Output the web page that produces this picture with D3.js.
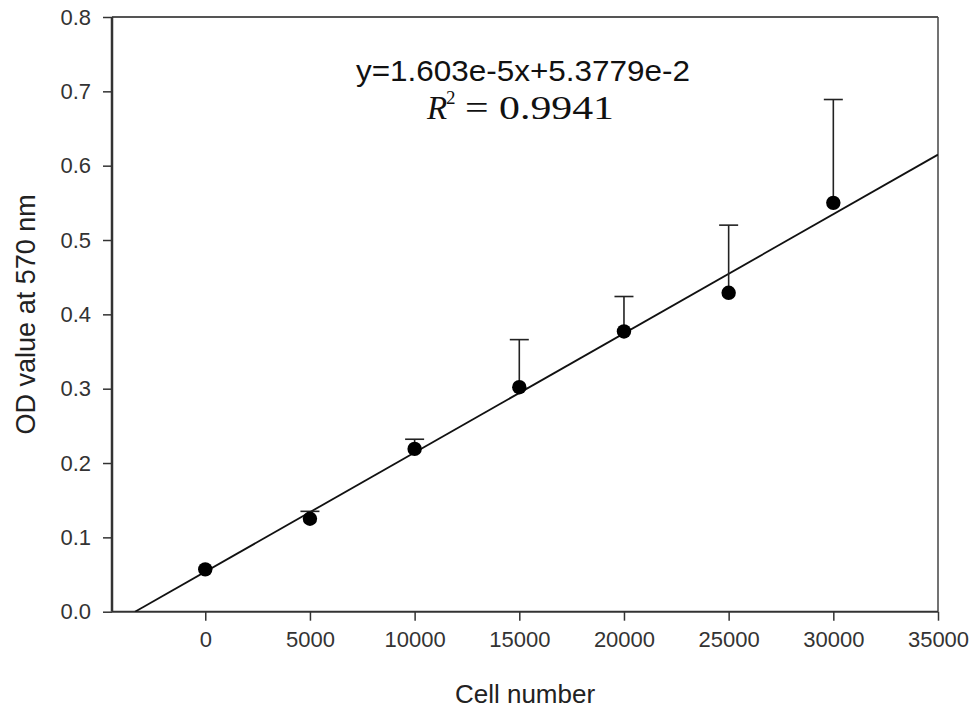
<!DOCTYPE html>
<html>
<head>
<meta charset="utf-8">
<script src="https://cdn.jsdelivr.net/npm/d3@7/dist/d3.min.js"></script>
<style>
  html, body { margin: 0; padding: 0; background: #fff; }
  svg { display: block; }
</style>
</head>
<body>
<svg id="chart" width="974" height="709"></svg>
<script>
// ---- data ----
const cellNumbers = [0, 5000, 10000, 15000, 20000, 25000, 30000];
const odValues    = [0.057, 0.125, 0.219, 0.302, 0.377, 0.429, 0.550];
const odErrors    = [0.000, 0.010, 0.013, 0.064, 0.047, 0.091, 0.139];
const xTickValues = [0, 5000, 10000, 15000, 20000, 25000, 30000, 35000];
const yTickValues = [0.0, 0.1, 0.2, 0.3, 0.4, 0.5, 0.6, 0.7, 0.8];
const fitSlope = 1.603e-5;
const fitIntercept = 5.3779e-2;
const equationText = "y=1.603e-5x+5.3779e-2";
const r2Text = "= 0.9941";
const xTitle = "Cell number";
const yTitle = "OD value at 570 nm";

(function () {
// ---- layout ----
const pL = 112, pR = 938, pT = 17, pB = 611.7;
const svg = d3.select("#chart");

const x = d3.scaleLinear().domain([-4455, 35000]).range([pL, pR]);
const y = d3.scaleLinear().domain([0, 0.8]).range([pB, pT]);

const axisColor = "#333";
const tickFont = "Liberation Sans, Arial, sans-serif";

// clip
svg.append("clipPath").attr("id", "plotclip")
  .append("rect").attr("x", pL).attr("y", pT)
  .attr("width", pR - pL).attr("height", pB - pT);

// frame (top & right)
svg.append("line").attr("x1", pL).attr("x2", pR).attr("y1", pT).attr("y2", pT)
  .attr("stroke", "#555").attr("stroke-width", 2);
svg.append("line").attr("x1", pR).attr("x2", pR).attr("y1", pT).attr("y2", pB)
  .attr("stroke", "#444").attr("stroke-width", 1.5);

// axes
const xAxis = d3.axisBottom(x).tickValues(xTickValues).tickSize(9).tickPadding(11)
  .tickFormat(d3.format("d"));
const gx = svg.append("g").attr("transform", `translate(0,${pB})`).call(xAxis);
gx.select(".domain").attr("d", `M${pL},0H${pR}`).attr("stroke", axisColor).attr("stroke-width", 2);
gx.selectAll(".tick line").attr("stroke", axisColor).attr("stroke-width", 1.5);
gx.selectAll(".tick text").attr("font-family", tickFont).attr("font-size", 22).attr("fill", "#333");

const yAxis = d3.axisLeft(y).tickValues(yTickValues).tickSize(9).tickPadding(12)
  .tickFormat(d3.format(".1f"));
const gy = svg.append("g").attr("transform", `translate(${pL},0)`).call(yAxis);
gy.select(".domain").attr("d", `M0,${pB}V${pT}`).attr("stroke", axisColor).attr("stroke-width", 2.5);
gy.selectAll(".tick line").attr("stroke", axisColor).attr("stroke-width", 1.5);
gy.selectAll(".tick text").attr("font-family", tickFont).attr("font-size", 22).attr("fill", "#333");

// regression line
const xStart = -fitIntercept / fitSlope;
const xEnd = 35000;
svg.append("line")
  .attr("clip-path", "url(#plotclip)")
  .attr("x1", x(xStart)).attr("y1", y(fitSlope * xStart + fitIntercept))
  .attr("x2", x(xEnd)).attr("y2", y(fitSlope * xEnd + fitIntercept))
  .attr("stroke", "#111").attr("stroke-width", 1.8);

// error bars (upper only)
const data = cellNumbers.map((c, i) => ({ c, v: odValues[i], e: odErrors[i] }));
const capW = 19;
const eb = svg.append("g").attr("stroke", "#222").attr("stroke-width", 1.6);
data.filter(d => d.e > 0).forEach(d => {
  eb.append("line").attr("x1", x(d.c)).attr("x2", x(d.c))
    .attr("y1", y(d.v)).attr("y2", y(d.v + d.e));
  eb.append("line").attr("x1", x(d.c) - capW / 2).attr("x2", x(d.c) + capW / 2)
    .attr("y1", y(d.v + d.e)).attr("y2", y(d.v + d.e));
});

// points
svg.append("g").selectAll("circle").data(data).join("circle")
  .attr("cx", d => x(d.c)).attr("cy", d => y(d.v)).attr("r", 7.2)
  .attr("fill", "#000");

// equation text
svg.append("text").attr("x", 356).attr("y", 81)
  .attr("font-family", "Liberation Sans Narrow, Arial Narrow, sans-serif")
  .attr("font-size", 30).attr("fill", "#111")
  .attr("textLength", 334).attr("lengthAdjust", "spacingAndGlyphs")
  .text(equationText);

const serif = "Liberation Serif, DejaVu Serif, serif";
svg.append("text").attr("x", 427).attr("y", 119)
  .attr("font-family", serif).attr("font-style", "italic")
  .attr("font-size", 33).attr("fill", "#111").text("R");
svg.append("text").attr("x", 446).attr("y", 104)
  .attr("font-family", serif)
  .attr("font-size", 19).attr("fill", "#111").text("2");
svg.append("text").attr("x", 465).attr("y", 119)
  .attr("font-family", serif)
  .attr("font-size", 33).attr("fill", "#111")
  .attr("textLength", 149).attr("lengthAdjust", "spacingAndGlyphs")
  .text(r2Text);

// axis titles
svg.append("text").attr("x", (pL + pR) / 2).attr("y", 703)
  .attr("text-anchor", "middle")
  .attr("font-family", tickFont).attr("font-size", 26).attr("fill", "#222")
  .text(xTitle);
svg.append("text")
  .attr("transform", `translate(35,${(pT + pB) / 2}) rotate(-90)`)
  .attr("text-anchor", "middle")
  .attr("font-family", tickFont).attr("font-size", 27).attr("fill", "#222")
  .text(yTitle);
})();
</script>
</body>
</html>
